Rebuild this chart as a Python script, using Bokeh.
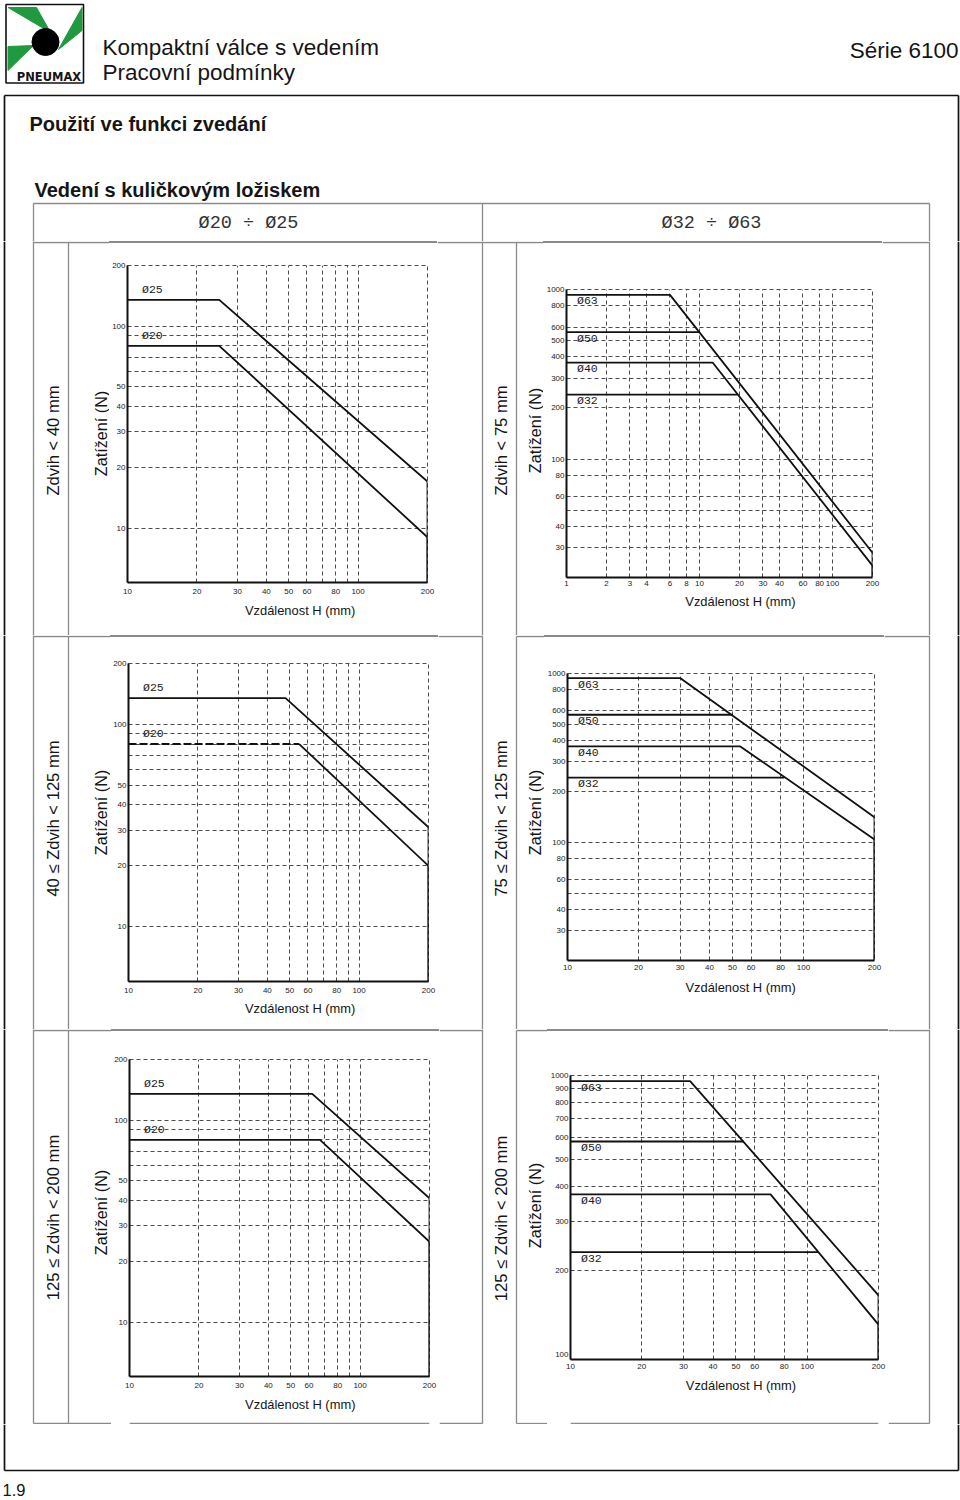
import math
from bokeh.plotting import figure
from bokeh.layouts import row, column
from bokeh.models import Range1d, FixedTicker, PrintfTickFormatter, Spacer
from bokeh.core.properties import value
from bokeh.embed import file_html
from bokeh.resources import INLINE

# ---------------- data (H = distance in mm, F = load in N) ----------------
# Row 1 : Zdvih < 40 mm (Ø20 ÷ Ø25)
R1L_D25_H = [10, 25, 200];   R1L_D25_F = [135, 135, 17]
R1L_D20_H = [10, 25, 200];   R1L_D20_F = [80, 80, 9]
# Row 1 : Zdvih < 75 mm (Ø32 ÷ Ø63)
R1R_D63_H = [1, 6, 200];     R1R_D63_F = [930, 930, 28]
R1R_D50_H = [1, 10];         R1R_D50_F = [560, 560]
R1R_D40_H = [1, 12.6, 200];  R1R_D40_F = [370, 370, 23.5]
R1R_D32_H = [1, 19.4];       R1R_D32_F = [240, 240]
# Row 2 : 40 ≤ Zdvih < 125 mm
R2L_D25_H = [10, 48, 200];   R2L_D25_F = [135, 135, 31]
R2L_D20_H = [10, 55, 200];   R2L_D20_F = [80, 80, 20]
# Row 2 : 75 ≤ Zdvih < 125 mm
R2R_D63_H = [10, 30, 200];   R2R_D63_F = [940, 940, 141]
R2R_D50_H = [10, 50];        R2R_D50_F = [570, 570]
R2R_D40_H = [10, 54, 200];   R2R_D40_F = [370, 370, 104]
R2R_D32_H = [10, 83];        R2R_D32_F = [242, 242]
# Row 3 : 125 ≤ Zdvih < 200 mm
R3L_D25_H = [10, 62, 200];   R3L_D25_F = [135, 135, 41]
R3L_D20_H = [10, 67, 200];   R3L_D20_F = [80, 80, 25]
R3R_D63_H = [10, 32, 200];   R3R_D63_F = [955, 955, 163]
R3R_D50_H = [10, 54];        R3R_D50_F = [580, 580]
R3R_D40_H = [10, 70, 200];   R3R_D40_F = [375, 375, 128]
R3R_D32_H = [10, 111];       R3R_D32_F = [233, 233]

# axis ranges
X_RANGE_SMALL = [10, 200]
X_RANGE_R1R = [1, 200]
Y_RANGE_SMALL = [5.37, 200]
Y_RANGE_BIG = [20, 1000]
Y_RANGE_R3R = [96, 1000]

# tick labels and grid lines
SMALL_X_TICKS = [10, 20, 30, 40, 50, 60, 80, 100, 200]
SMALL_X_GRID = [20, 30, 40, 50, 60, 70, 80, 90, 100]
SMALL_Y_TICKS = [10, 20, 30, 40, 50, 100, 200]
SMALL_Y_GRID = [10, 20, 30, 40, 50, 60, 70, 80, 90, 100]
R1R_X_TICKS = [1, 2, 3, 4, 6, 8, 10, 20, 30, 40, 60, 80, 100, 200]
R1R_X_GRID = [2, 3, 4, 6, 8, 10, 20, 30, 40, 60, 80, 100]
BIG_X_TICKS = [10, 20, 30, 40, 50, 60, 80, 100, 200]
BIG_X_GRID = [20, 30, 40, 50, 60, 80, 100]
BIG_Y_TICKS = [30, 40, 60, 80, 100, 200, 300, 400, 500, 600, 800, 1000]
BIG_Y_GRID = [30, 40, 50, 60, 80, 100, 200, 300, 400, 500, 600, 800]
R3R_Y_TICKS = [100, 200, 300, 400, 500, 600, 700, 800, 900, 1000]
R3R_Y_GRID = [200, 300, 400, 500, 600, 700, 800, 900]

# ---------------- layout helpers ----------------
PAGE_W = 960
PAGE_H = 1498

SANS = "Liberation Sans"
MONO = "Liberation Mono"
BLACK = "#111111"
GRAY = "#8a8a8a"
GRIDC = "#4d4d4d"
GREEN = "#1f9a3e"
TW = 1.3   # table line width
FW = 1.7   # frame line width


def px(v):
    return int(round(v))


def fpx(v):
    return f"{v:.1f}px"


def decor(x0, x1, y0, y1):
    f = figure(width=px(x1) - px(x0), height=px(y1) - px(y0),
               x_range=Range1d(px(x0), px(x1)), y_range=Range1d(px(y1), px(y0)),
               x_axis_type=None, y_axis_type=None, min_border=0,
               output_backend="svg", toolbar_location=None)
    f.outline_line_color = None
    f.tags = [px(x0), px(x1)]
    return f


def top_strip(x0, x1, y0, y1):
    # blank band above a chart whose first pixel row carries the table rule
    grad = ("linear-gradient(to bottom, #ffffff 0px, #ffffff 0.4px, "
            f"{GRAY} 0.4px, {GRAY} 1.7px, #ffffff 1.7px, #ffffff 100%)")
    return Spacer(width=px(x1) - px(x0), height=px(y1) - px(y0),
                  styles={"background": grad})


def seg(f, pts, color, width):
    f.segment(x0=[q[0] for q in pts], y0=[q[1] for q in pts],
              x1=[q[2] for q in pts], y1=[q[3] for q in pts],
              line_color=color, line_width=width)


def txt(f, x, y, s, size, font=SANS, style="normal", align="left",
        baseline="middle", angle=0.0, color="#151515"):
    f.text(x=[x], y=[y], text=[s], text_font=value(font),
           text_font_size=fpx(size), text_font_style=style,
           text_align=align, text_baseline=baseline, angle=angle,
           text_color=color)


def hline(f, y, full):
    xa, xb = f.tags
    spans = [(33, 929)] if full else [(33, 482), (516, 929)]
    for a, b in spans:
        lo, hi = max(a, xa), min(b, xb)
        if hi > lo:
            f.line(x=[lo, hi], y=[y, y], line_color=GRAY, line_width=TW)


def chart(frame, xr_, yr_, xticks, xgrid, yticks, ygrid, curves,
          above, lpad, xstand):
    fl, fr, ft, fb = frame
    xl, xr, yt, yb = fl - lpad, fr + 10, ft - 7, fb + 17
    p = figure(width=px(xr) - px(xl), height=px(yb) - px(yt),
               x_axis_type="log", y_axis_type="log",
               x_range=Range1d(xr_[0], xr_[1]), y_range=Range1d(yr_[0], yr_[1]),
               min_border_left=px(fl) - px(xl), min_border_right=px(xr) - px(fr),
               min_border_top=px(ft) - px(yt), min_border_bottom=px(yb) - px(fb),
               output_backend="svg", toolbar_location=None)
    p.outline_line_color = GRIDC
    p.outline_line_dash = "4 3"
    p.outline_line_width = 1
    for ax, ticks in ((p.xaxis[0], xticks), (p.yaxis[0], yticks)):
        ax.ticker = FixedTicker(ticks=ticks, minor_ticks=[])
        ax.formatter = PrintfTickFormatter(format="%d")
        ax.major_label_text_font = SANS
        ax.major_label_text_font_size = fpx(8.0)
        ax.major_label_text_color = "#222222"
        ax.axis_line_color = BLACK
        ax.axis_line_width = 2
        ax.major_tick_in = 0
        ax.major_tick_out = 0
        ax.major_tick_line_color = None
        ax.minor_tick_line_color = None
    p.xaxis[0].major_label_standoff = xstand
    p.yaxis[0].major_label_standoff = 2
    p.xgrid[0].ticker = FixedTicker(ticks=xgrid, minor_ticks=[])
    p.ygrid[0].ticker = FixedTicker(ticks=ygrid, minor_ticks=[])
    for g in (p.xgrid[0], p.ygrid[0]):
        g.grid_line_color = GRIDC
        g.grid_line_dash = "4 3"
        g.grid_line_width = 1
    for name, H, F, dash_flat in curves:
        if dash_flat:
            p.line(x=H[:2], y=F[:2], line_color=BLACK, line_width=2.0, line_dash="8 3")
            p.line(x=H[1:], y=F[1:], line_color=BLACK, line_width=1.8)
        else:
            p.line(x=H, y=F, line_color=BLACK, line_width=1.8)
        if H[-1] == xr_[1]:
            p.segment(x0=[H[-1]], y0=[F[-1]], x1=[H[-1]], y1=[yr_[0]],
                      line_color=BLACK, line_width=1.8)
    p.text(x=[xr_[0]] * len(curves), y=[c[2][0] for c in curves],
           text=[c[0] for c in curves], text_font=value(MONO),
           text_font_size=fpx(11.5), text_color="#222222",
           text_baseline="middle",
           x_offset=(14.5 if above else 10.5),
           y_offset=(-10.5 if above else 6.0))
    return p, (xl, xr, yt, yb)


def chart_row(top, bot, pl, bl, pr, br, lab_l, lab_r, cy, top_full, last):
    (lxl, lxr, lyt, lyb), (rxl, rxr, ryt, ryb) = bl, br
    ytl = top + 1          # separator line at the top edge of the row
    vb = bot - 1 if last else bot
    # left decoration
    dl = decor(0, lxl, top, bot)
    seg(dl, [(4, top, 4, bot)], BLACK, FW)
    seg(dl, [(33, top, 33, vb), (68, ytl, 68, vb)], GRAY, TW)
    txt(dl, 52.5, cy[0], lab_l, 16.6, align="center", angle=math.pi / 2)
    txt(dl, 100, cy[1], "Zatížení (N)", 16.2, align="center", angle=math.pi / 2)
    # left chart column
    tl = top_strip(lxl, lxr, top, lyt)
    btl = decor(lxl, lxr, lyb, bot)
    txt(btl, cy[4][0], cy[4][1], "Vzdálenost H (mm)", 12.9, align="center")
    # middle decoration
    dm = decor(lxr, rxl, top, bot)
    seg(dm, [(482, top, 482, vb), (516, ytl, 516, vb)], GRAY, TW)
    txt(dm, 500.5, cy[2], lab_r, 16.6, align="center", angle=math.pi / 2)
    txt(dm, 534.5, cy[3], "Zatížení (N)", 16.2, align="center", angle=math.pi / 2)
    # right chart column
    tr = top_strip(rxl, rxr, top, ryt)
    btr = decor(rxl, rxr, ryb, bot)
    txt(btr, cy[5][0], cy[5][1], "Vzdálenost H (mm)", 12.9, align="center")
    # right decoration
    dr = decor(rxr, PAGE_W, top, bot)
    seg(dr, [(929, top, 929, vb)], GRAY, TW)
    seg(dr, [(958, top, 958, bot)], BLACK, FW)
    for f in (dl, dm, dr):
        hline(f, ytl, top_full)
    if last:
        for f in (dl, btl, dm, btr, dr):
            hline(f, bot - 1, False)
    return row(dl, column(tl, pl, btl), dm, column(tr, pr, btr), dr)


# ---------------- header ----------------
hd = decor(0, PAGE_W, 0, 241)
# logo
hd.quad(left=[5.5], right=[83], top=[4], bottom=[82.5], fill_color=None,
        line_color=BLACK, line_width=1.6)
hd.patches(xs=[[7.5, 36, 50], [81.5, 81.5, 58], [7.5, 7.5, 33]],
           ys=[[7, 7, 32], [7, 30, 49], [46, 70, 45]],
           fill_color=GREEN, line_color=GREEN)
hd.ellipse(x=[45], y=[41.5], width=[27], height=[27], fill_color="black", line_color="black")
txt(hd, 48.5, 76.5, "PNEUMAX", 11.5, font="DejaVu Sans", style="bold", align="center")
txt(hd, 102, 47.2, "Kompaktní válce s vedením", 22.5)
txt(hd, 102, 72.2, "Pracovní podmínky", 22.5)
txt(hd, 958, 49.8, "Série 6100", 22.5, align="right")
# outer frame and table header
seg(hd, [(4, 95, 958, 95), (4, 95, 4, 241), (958, 95, 958, 241)], BLACK, FW)
seg(hd, [(33, 203, 929, 203), (33, 203, 33, 241), (482, 203, 482, 241), (929, 203, 929, 241)], GRAY, TW)
txt(hd, 29, 123, "Použití ve funkci zvedání", 20, style="bold")
txt(hd, 34, 189.8, "Vedení s kuličkovým ložiskem", 20, style="bold")
txt(hd, 248, 223, "Ø20 ÷ Ø25", 18.5, font=MONO, align="center", color="#333333")
txt(hd, 711, 223, "Ø32 ÷ Ø63", 18.5, font=MONO, align="center", color="#333333")

# ---------------- charts ----------------
p1, b1 = chart((127.3, 426.7, 265, 582.3), X_RANGE_SMALL, Y_RANGE_SMALL,
               SMALL_X_TICKS, SMALL_X_GRID, SMALL_Y_TICKS, SMALL_Y_GRID,
               [("Ø25", R1L_D25_H, R1L_D25_F, False), ("Ø20", R1L_D20_H, R1L_D20_F, False)],
               True, 18, 6)
p2, b2 = chart((565.3, 871.7, 289.3, 576.7), X_RANGE_R1R, Y_RANGE_BIG,
               R1R_X_TICKS, R1R_X_GRID, BIG_Y_TICKS, BIG_Y_GRID,
               [("Ø63", R1R_D63_H, R1R_D63_F, False), ("Ø50", R1R_D50_H, R1R_D50_F, False),
                ("Ø40", R1R_D40_H, R1R_D40_F, False), ("Ø32", R1R_D32_H, R1R_D32_F, False)],
               False, 22, 3)
p3, b3 = chart((128.3, 428.3, 663.3, 981), X_RANGE_SMALL, Y_RANGE_SMALL,
               SMALL_X_TICKS, SMALL_X_GRID, SMALL_Y_TICKS, SMALL_Y_GRID,
               [("Ø25", R2L_D25_H, R2L_D25_F, False), ("Ø20", R2L_D20_H, R2L_D20_F, True)],
               True, 18, 6)
p4, b4 = chart((566, 874.3, 673.3, 960), X_RANGE_SMALL, Y_RANGE_BIG,
               BIG_X_TICKS, BIG_X_GRID, BIG_Y_TICKS, BIG_Y_GRID,
               [("Ø63", R2R_D63_H, R2R_D63_F, False), ("Ø50", R2R_D50_H, R2R_D50_F, False),
                ("Ø40", R2R_D40_H, R2R_D40_F, False), ("Ø32", R2R_D32_H, R2R_D32_F, False)],
               False, 22, 4)
p5, b5 = chart((129.3, 429, 1059, 1376), X_RANGE_SMALL, Y_RANGE_SMALL,
               SMALL_X_TICKS, SMALL_X_GRID, SMALL_Y_TICKS, SMALL_Y_GRID,
               [("Ø25", R3L_D25_H, R3L_D25_F, False), ("Ø20", R3L_D20_H, R3L_D20_F, False)],
               True, 18, 6)
p6, b6 = chart((569.3, 877.7, 1074.7, 1359.3), X_RANGE_SMALL, Y_RANGE_R3R,
               BIG_X_TICKS, BIG_X_GRID, R3R_Y_TICKS, R3R_Y_GRID,
               [("Ø63", R3R_D63_H, R3R_D63_F, False), ("Ø50", R3R_D50_H, R3R_D50_F, False),
                ("Ø40", R3R_D40_H, R3R_D40_F, False), ("Ø32", R3R_D32_H, R3R_D32_F, False)],
               False, 22, 4)

row1 = chart_row(241, 635, p1, b1, p2, b2, "Zdvih < 40 mm", "Zdvih < 75 mm",
                 [440, 433, 440, 430, (297.7, 610), (735.7, 601)], True, False)
row2 = chart_row(635, 1029, p3, b3, p4, b4, "40 ≤ Zdvih < 125 mm", "75 ≤ Zdvih < 125 mm",
                 [818, 812, 818, 812, (297.7, 1008), (735.7, 986.7)], False, False)
row3 = chart_row(1029, 1424, p5, b5, p6, b6, "125 ≤ Zdvih < 200 mm", "125 ≤ Zdvih < 200 mm",
                 [1217, 1212, 1218, 1205, (297.7, 1404), (735.7, 1385)], False, True)

# ---------------- footer ----------------
ft_ = decor(0, PAGE_W, 1424, PAGE_H)
seg(ft_, [(4, 1424, 4, 1470), (958, 1424, 958, 1470), (4, 1470, 958, 1470)], BLACK, FW)
txt(ft_, 2, 1489.5, "1.9", 16.5)

page = column(hd, row1, row2, row3, ft_)

open("out.html", "w").write(file_html(page, INLINE))
